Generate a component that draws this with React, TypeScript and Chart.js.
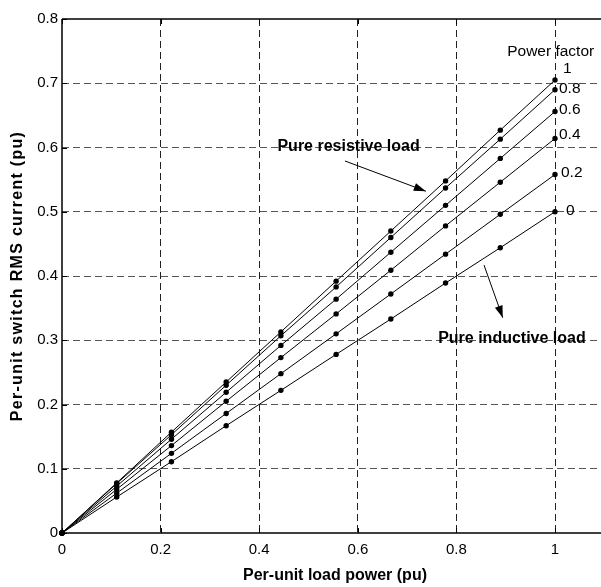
import React, { useEffect, useRef } from "react";
import { Chart, registerables } from "chart.js";

Chart.register(...registerables);

const loadPower = [0, 0.111, 0.222, 0.333, 0.444, 0.556, 0.667, 0.778, 0.889, 1];
const pf1 = [0, 0.078, 0.157, 0.235, 0.313, 0.392, 0.47, 0.548, 0.627, 0.705];
const pf08 = [0, 0.077, 0.153, 0.23, 0.307, 0.383, 0.46, 0.537, 0.613, 0.69];
const pf06 = [0, 0.073, 0.146, 0.219, 0.292, 0.364, 0.437, 0.51, 0.583, 0.656];
const pf04 = [0, 0.068, 0.136, 0.205, 0.273, 0.341, 0.409, 0.478, 0.546, 0.614];
const pf02 = [0, 0.062, 0.124, 0.186, 0.248, 0.31, 0.372, 0.434, 0.496, 0.558];
const pf0 = [0, 0.056, 0.111, 0.167, 0.222, 0.278, 0.333, 0.389, 0.444, 0.5];
const seriesLabels = ["1", "0.8", "0.6", "0.4", "0.2", "0"];
const seriesValues = [pf1, pf08, pf06, pf04, pf02, pf0];
const xTicks = [0, 0.2, 0.4, 0.6, 0.8, 1];
const yTicks = [0, 0.1, 0.2, 0.3, 0.4, 0.5, 0.6, 0.7, 0.8];

const FONT = "'Liberation Sans', Arial, sans-serif";

function arrow(ctx: CanvasRenderingContext2D, x1: number, y1: number, x2: number, y2: number) {
  ctx.save();
  ctx.strokeStyle = "#000";
  ctx.fillStyle = "#000";
  ctx.lineWidth = 1;
  ctx.beginPath();
  ctx.moveTo(x1, y1);
  ctx.lineTo(x2, y2);
  ctx.stroke();
  const a = Math.atan2(y2 - y1, x2 - x1);
  const len = 12;
  const hw = 4;
  const bx = x2 - len * Math.cos(a);
  const by = y2 - len * Math.sin(a);
  ctx.beginPath();
  ctx.moveTo(x2, y2);
  ctx.lineTo(bx + hw * Math.sin(a), by - hw * Math.cos(a));
  ctx.lineTo(bx - hw * Math.sin(a), by + hw * Math.cos(a));
  ctx.closePath();
  ctx.fill();
  ctx.restore();
}

const decorPlugin = {
  id: "decor",
  afterDraw(chart: any) {
    const ctx: CanvasRenderingContext2D = chart.ctx;
    const xs = chart.scales.x;
    const ys = chart.scales.y;
    const ca = chart.chartArea;
    const X = (v: number) => xs.getPixelForValue(v);
    const Y = (v: number) => ys.getPixelForValue(v);
    ctx.save();
    // axes
    ctx.strokeStyle = "#000";
    ctx.lineWidth = 1.5;
    ctx.beginPath();
    ctx.moveTo(ca.left, ca.top);
    ctx.lineTo(ca.right, ca.top);
    ctx.moveTo(ca.left, ca.top);
    ctx.lineTo(ca.left, ca.bottom);
    ctx.lineTo(ca.right, ca.bottom);
    ctx.stroke();
    // inner ticks
    ctx.lineWidth = 1;
    ctx.beginPath();
    xTicks.forEach((v) => {
      const px = Math.round(X(v)) + 0.5;
      ctx.moveTo(px, ca.bottom);
      ctx.lineTo(px, ca.bottom - 5);
      ctx.moveTo(px, ca.top);
      ctx.lineTo(px, ca.top + 5);
    });
    yTicks.forEach((v) => {
      const py = Math.round(Y(v)) + 0.5;
      ctx.moveTo(ca.left, py);
      ctx.lineTo(ca.left + 5, py);
    });
    ctx.stroke();

    // axis titles
    ctx.fillStyle = "#000";
    ctx.font = `bold 16px ${FONT}`;
    ctx.textAlign = "center";
    ctx.textBaseline = "middle";
    ctx.fillText("Per-unit load power (pu)", 335, 576);
    ctx.save();
    ctx.translate(18, 276);
    ctx.rotate(-Math.PI / 2);
    (ctx as any).letterSpacing = "1.3px";
    ctx.fillText("Per-unit switch RMS current (pu)", 0, 0);
    ctx.restore();

    // power factor labels
    ctx.font = `15.5px ${FONT}`;
    ctx.textAlign = "left";
    ctx.fillText("Power factor", X(0.903), Y(0.749));
    const labelOffsets = [
      [8, 11],
      [4, 1],
      [4, 2],
      [4, 4],
      [6, 2],
      [11, 1],
    ];
    seriesValues.forEach((vals, i) => {
      const last = vals[vals.length - 1];
      const px = X(loadPower[loadPower.length - 1]);
      const py = Y(last);
      ctx.fillText(seriesLabels[i], px + labelOffsets[i][0], py - labelOffsets[i][1]);
    });

    // annotations
    ctx.font = `bold 16px ${FONT}`;
    ctx.textAlign = "left";
    ctx.fillText("Pure resistive load", X(0.437), Y(0.601));
    ctx.fillText("Pure inductive load", X(0.763), Y(0.302));
    ctx.restore();

    arrow(ctx, X(0.574), Y(0.579), X(0.738), Y(0.532));
    arrow(ctx, X(0.856), Y(0.417), X(0.894), Y(0.335));
  },
};

export default function App() {
  const ref = useRef<HTMLCanvasElement>(null);
  useEffect(() => {
    if (!ref.current) return;
    const chart = new Chart(ref.current, {
      type: "line",
      data: {
        datasets: seriesValues.map((vals, i) => ({
          label: seriesLabels[i],
          data: vals.map((v, j) => ({ x: loadPower[j], y: v })),
          borderColor: "#000",
          backgroundColor: "#000",
          borderWidth: 1,
          pointRadius: 2.7,
          pointHoverRadius: 2.7,
          pointBorderWidth: 0,
          pointBackgroundColor: "#000",
          fill: false,
          tension: 0,
          clip: false,
        })),
      },
      options: {
        responsive: false,
        animation: false,
        layout: { autoPadding: false, padding: { top: 19, left: 0, right: 0, bottom: 0 } },
        plugins: { legend: { display: false }, tooltip: { enabled: false } },
        scales: {
          x: {
            type: "linear",
            min: 0,
            max: 1.0933,
            afterFit: (s: any) => {
              s.height = 54;
              s.paddingLeft = 0;
              s.paddingRight = 0;
            },
            afterBuildTicks: (s: any) => {
              s.ticks = xTicks.map((v) => ({ value: v }));
            },
            border: { display: false, dash: [7, 4] },
            grid: {
              drawTicks: false,
              color: (c: any) => (c.tick && c.tick.value === 0 ? "rgba(0,0,0,0)" : "#222"),
              lineWidth: 1,
            },
            ticks: {
              padding: 8,
              color: "#000",
              font: { family: FONT, size: 15 },
              callback: (v: any) => String(Math.round(Number(v) * 10) / 10),
              maxRotation: 0,
            },
          },
          y: {
            type: "linear",
            min: 0,
            max: 0.8,
            afterFit: (s: any) => {
              s.width = 62;
              s.paddingTop = 0;
              s.paddingBottom = 0;
            },
            afterBuildTicks: (s: any) => {
              s.ticks = yTicks.map((v) => ({ value: v }));
            },
            border: { display: false, dash: [7, 4] },
            grid: {
              drawTicks: false,
              color: (c: any) =>
                c.tick && (c.tick.value === 0 || c.tick.value === 0.8) ? "rgba(0,0,0,0)" : "#555",
              lineWidth: 1,
            },
            ticks: {
              padding: 4,
              color: "#000",
              font: { family: FONT, size: 15 },
              callback: (v: any) => String(Math.round(Number(v) * 10) / 10),
            },
          },
        },
      },
      plugins: [decorPlugin],
    } as any);
    return () => chart.destroy();
  }, []);
  return (
    <div style={{ position: "absolute", left: 0, top: 0, width: 601, height: 587, background: "#fff" }}>
      <canvas ref={ref} width={601} height={587} />
    </div>
  );
}
